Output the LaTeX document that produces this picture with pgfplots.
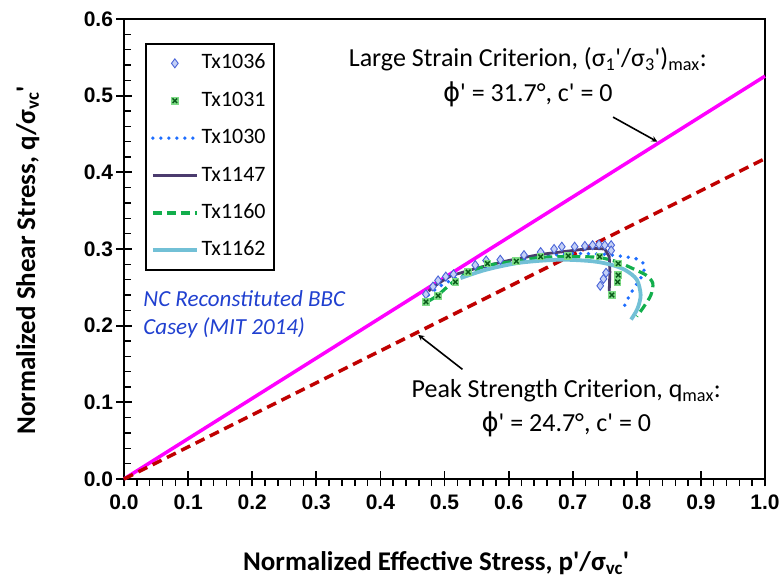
\documentclass[border=0pt]{standalone}
\usepackage{fontspec}
\setmainfont{Carlito}
\newfontfamily\arialfont{Liberation Sans}
\newfontfamily\dejavu{DejaVu Sans}
\usepackage{pgfplots}
\pgfplotsset{compat=1.18}
\definecolor{magentaline}{HTML}{FF00FF}
\definecolor{redline}{HTML}{C00000}
\definecolor{diablue}{HTML}{4A64D8}
\definecolor{diafill}{HTML}{C4D0F6}
\definecolor{boxgreen}{HTML}{7EDC86}
\definecolor{xgreen}{HTML}{0A5A1A}
\definecolor{dotblue}{HTML}{1E6EFF}
\definecolor{purpleline}{HTML}{4B3B6E}
\definecolor{dashgreen}{HTML}{12AE4C}
\definecolor{lightblue}{HTML}{72C0D6}
\definecolor{noteblue}{HTML}{2040D0}
\pgfdeclareplotmark{boxx}{%
  \pgfpathrectangle{\pgfqpoint{-\pgfplotmarksize}{-\pgfplotmarksize}}{\pgfqpoint{2\pgfplotmarksize}{2\pgfplotmarksize}}%
  \pgfsetfillcolor{boxgreen}\pgfusepathqfill
  \pgfsetstrokecolor{xgreen}\pgfsetlinewidth{1.4pt}%
  \pgfpathmoveto{\pgfqpoint{-0.6\pgfplotmarksize}{-0.6\pgfplotmarksize}}%
  \pgfpathlineto{\pgfqpoint{0.6\pgfplotmarksize}{0.6\pgfplotmarksize}}%
  \pgfpathmoveto{\pgfqpoint{-0.6\pgfplotmarksize}{0.6\pgfplotmarksize}}%
  \pgfpathlineto{\pgfqpoint{0.6\pgfplotmarksize}{-0.6\pgfplotmarksize}}%
  \pgfusepathqstroke}
\newcommand{\pq}{\textquotesingle}
\begin{document}
\begin{tikzpicture}
\useasboundingbox (-124pt,-104pt) rectangle (655pt,479pt);
\begin{axis}[
  scale only axis, width=641pt, height=460pt,
  xmin=0, xmax=1, ymin=0, ymax=0.6,
  xtick={0,0.1,0.2,0.3,0.4,0.5,0.6,0.7,0.8,0.9,1.0},
  ytick={0,0.1,0.2,0.3,0.4,0.5,0.6},
  minor x tick num=4, minor y tick num=4,
  tick pos=left, tick align=center,
  major tick length=15pt, minor tick length=7pt,
  major tick style={black, line width=1.8pt},
  minor x tick style={black, line width=1.5pt, yshift=-3.5pt},
  minor y tick style={black, line width=1.5pt, xshift=3.5pt},
  axis line style={line width=2.5pt},
  ticklabel style={font=\arialfont\bfseries\fontsize{21}{21}\selectfont},
  xticklabel style={yshift=-5pt},
  /pgf/number format/.cd, fixed, fixed zerofill, precision=1, assume math mode=true, /pgfplots/.cd,
  xlabel={Normalized Effective Stress, p\pq/σ\textsubscript{vc}\pq},
  ylabel={Normalized Shear Stress, q/σ\textsubscript{vc}\pq},
  label style={font=\bfseries\fontsize{27}{27}\selectfont},
  xlabel style={at={(axis description cs:0.487,-0.183)}, anchor=center},
  ylabel style={at={(axis description cs:-0.150,0.475)}, anchor=center},
  clip=false,
  legend image code/.code={\draw[mark repeat=2,mark phase=2,#1] plot coordinates {(0pt,0pt) (22pt,0pt) (44pt,0pt)};},
  legend style={at={(axis description cs:0.0328,0.948)}, anchor=north west,
    draw=black, line width=1.8pt, inner xsep=5pt, inner ysep=8pt, row sep=14.4pt,
    font=\fontsize{22}{22}\selectfont,
    nodes={inner xsep=3pt, inner ysep=2pt, text height=15pt, text depth=4pt}},
  legend cell align=left,
]
% failure envelopes
\addplot[magentaline, line width=3.5pt, forget plot] coordinates {(0,0) (1.0,0.5255)};
\addplot[redline, line width=3.5pt, dash pattern=on 10pt off 6pt, forget plot] coordinates {(0,0) (1.0,0.4179)};
% Tx1030
\addplot[dotblue, line width=3.8pt, dash pattern=on 0pt off 8pt, line cap=round, smooth, forget plot] coordinates {
(0.475,0.240) (0.500,0.255) (0.550,0.272) (0.600,0.283) (0.650,0.290) (0.700,0.294) (0.750,0.293) (0.780,0.290) (0.800,0.287) (0.812,0.279) (0.808,0.265) (0.798,0.252) (0.789,0.240) (0.783,0.230) (0.778,0.220)};
% Tx1147
\addplot[purpleline, line width=2.8pt, forget plot] coordinates {
(0.475,0.245) (0.490,0.255) (0.510,0.265) (0.550,0.275) (0.600,0.285) (0.650,0.293) (0.700,0.298) (0.730,0.301) (0.750,0.300) (0.757,0.290) (0.758,0.270) (0.757,0.245)};
% Tx1160
\addplot[dashgreen, line width=3.2pt, dash pattern=on 9pt off 5pt, smooth, forget plot] coordinates {
(0.475,0.232) (0.490,0.240) (0.515,0.258) (0.540,0.270) (0.570,0.279) (0.610,0.284) (0.650,0.289) (0.700,0.290) (0.740,0.289) (0.770,0.283) (0.800,0.272) (0.816,0.265) (0.825,0.255) (0.822,0.240) (0.812,0.226) (0.800,0.212)};
% Tx1162
\addplot[lightblue, line width=3.8pt, smooth, forget plot] coordinates {
(0.525,0.262) (0.565,0.273) (0.617,0.282) (0.679,0.286) (0.731,0.284) (0.762,0.279) (0.783,0.272) (0.800,0.260) (0.806,0.240) (0.801,0.222) (0.791,0.208)};
% Tx1036
\addplot[only marks, mark=diamond*, mark size=4.5pt, mark options={draw=diablue, fill=diafill, line width=0.9pt}] coordinates {
(0.471,0.241) (0.482,0.251) (0.490,0.259) (0.502,0.264) (0.514,0.267) (0.548,0.279) (0.565,0.285) (0.587,0.286) (0.624,0.292) (0.650,0.296) (0.671,0.300) (0.683,0.303) (0.703,0.303) (0.719,0.304) (0.731,0.305) (0.741,0.306) (0.750,0.305) (0.760,0.305) (0.760,0.298) (0.752,0.269) (0.748,0.261) (0.743,0.252)};
\addlegendentry{Tx1036}
% Tx1031
\addplot[only marks, mark=boxx, mark size=3.8pt] coordinates {
(0.471,0.231) (0.490,0.239) (0.517,0.257) (0.537,0.270) (0.567,0.281) (0.612,0.284) (0.650,0.290) (0.693,0.291) (0.742,0.290) (0.771,0.281) (0.771,0.266) (0.770,0.257) (0.761,0.240)};
\addlegendentry{Tx1031}
\addlegendimage{dotblue, line width=3.8pt, dash pattern=on 0pt off 8pt, line cap=round}
\addlegendentry{Tx1030}
\addlegendimage{purpleline, line width=2.8pt}
\addlegendentry{Tx1147}
\addlegendimage{dashgreen, line width=3.2pt, dash pattern=on 9pt off 5pt}
\addlegendentry{Tx1160}
\addlegendimage{lightblue, line width=3.8pt}
\addlegendentry{Tx1162}
% annotations
\node[align=center, font=\fontsize{26}{35}\selectfont] at (axis cs:0.630,0.524)
  {Large Strain Criterion, (σ\textsubscript{1}\pq/σ\textsubscript{3}\pq)\textsubscript{max}:\\{\dejavu ϕ}\pq\ = 31.7°, c\pq\ = 0};
\draw[-stealth, line width=1.6pt] (axis cs:0.763,0.472) -- (axis cs:0.832,0.440);
\node[align=center, font=\fontsize{26}{34}\selectfont] at (axis cs:0.690,0.092)
  {Peak Strength Criterion, q\textsubscript{max}:\\{\dejavu ϕ}\pq\ = 24.7°, c\pq\ = 0};
\draw[-stealth, line width=1.6pt] (axis cs:0.528,0.143) -- (axis cs:0.459,0.188);
\node[anchor=west, align=left, text=noteblue, font=\itshape\fontsize{23}{28}\selectfont, inner sep=0pt] at (axis cs:0.030,0.215)
  {NC Reconstituted BBC\\Casey (MIT 2014)};
\end{axis}
\end{tikzpicture}
\end{document}
